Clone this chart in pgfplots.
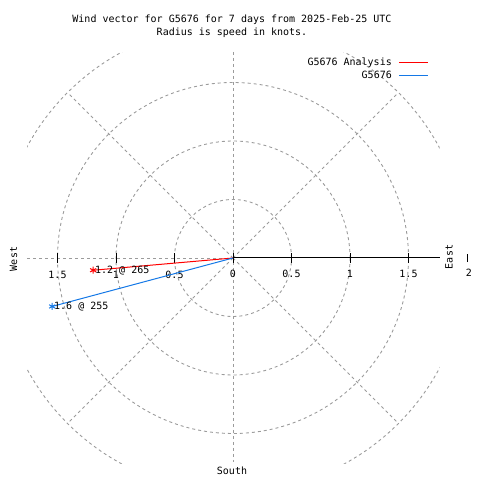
\documentclass[border=0pt]{standalone}
\usepackage{pgfplots}
\pgfplotsset{compat=1.18}
\usepackage{fontspec}
\setmainfont{DejaVu Sans Mono}
\setmonofont{DejaVu Sans Mono}
\definecolor{gridgray}{RGB}{155,155,155}
\definecolor{vecblue}{RGB}{20,120,230}
\newcommand{\pxc}[2]{(axis cs:{(#1-233)/117},{(258-#2)/117})}
\tikzset{gridline/.style={gridgray, line width=0.9bp, dash pattern=on 3bp off 3bp}}
\begin{document}
\begin{tikzpicture}[font=\fontsize{10bp}{12bp}\selectfont]
\begin{axis}[
  x=117bp, y=117bp,
  xmin=-1.991453, xmax=2.111111, ymin=-1.897436, ymax=2.205128,
  hide axis, clip=false,
  legend style={draw=none, fill=none, at={(axis cs:1.671,1.727)}, anchor=north east,
    font=\fontsize{10bp}{12bp}\selectfont, inner sep=0pt, row sep=1.5bp, column sep=5bp,
    nodes={inner sep=1.5bp}},
  legend plot pos=right,
  legend cell align=right,
  legend image code/.code={\draw[#1] (0bp,0bp) -- (29bp,0bp);},
]
% grid
\draw[gridline] (axis cs:0,0) circle[radius=0.5];
\draw[gridline] (axis cs:0,0) circle[radius=1];
\draw[gridline] (axis cs:0,0) circle[radius=1.5];
\begin{scope}
\clip (axis cs:-1.76,-1.755) rectangle (axis cs:1.765,1.757);
\draw[gridline] (axis cs:0,0) circle[radius=2];
\end{scope}
\draw[gridline] (axis cs:0,0) -- (axis cs:1.4142,1.4142);
\draw[gridline] (axis cs:0,0) -- (axis cs:-1.4142,1.4142);
\draw[gridline] (axis cs:0,0) -- (axis cs:-1.4142,-1.4142);
\draw[gridline] (axis cs:0,0) -- (axis cs:1.4142,-1.4142);
\draw[gridline] (axis cs:0,1.761) -- (axis cs:0,-1.744);
\draw[gridline] (axis cs:-1.76,0) -- (axis cs:0,0);
\draw[black, line width=1bp] (axis cs:0,0) -- (axis cs:1.765,0);
% ticks
\draw[black, line width=1bp] (axis cs:-1.5,-0.043) -- (axis cs:-1.5,0.043);
\draw[black, line width=1bp] (axis cs:-1,-0.043) -- (axis cs:-1,0.043);
\draw[black, line width=1bp] (axis cs:-0.5,-0.043) -- (axis cs:-0.5,0.043);
\draw[black, line width=1bp] (axis cs:0,-0.043) -- (axis cs:0,0.043);
\draw[black, line width=1bp] (axis cs:0.5,-0.043) -- (axis cs:0.5,0.043);
\draw[black, line width=1bp] (axis cs:1,-0.043) -- (axis cs:1,0.043);
\draw[black, line width=1bp] (axis cs:1.5,-0.043) -- (axis cs:1.5,0.043);
\draw[black, line width=1bp] (axis cs:2.005,-0.036) -- (axis cs:2.005,0.036);
% tick labels
\node[inner sep=0pt] at \pxc{57.5}{274.5} {1.5};
\node[inner sep=0pt] at \pxc{116}{274.5} {1};
\node[inner sep=0pt] at \pxc{174.5}{274.5} {0.5};
\node[inner sep=0pt] at \pxc{233}{274} {0};
\node[inner sep=0pt] at \pxc{291.5}{274} {0.5};
\node[inner sep=0pt] at \pxc{350}{274} {1};
\node[inner sep=0pt] at \pxc{408.5}{274} {1.5};
\node[inner sep=0pt] at \pxc{469}{273} {2};
% direction labels
\node[inner sep=0pt, rotate=90] at \pxc{13.5}{259} {West};
\node[inner sep=0pt, rotate=90] at \pxc{449}{257} {East};
\node[inner sep=0pt] at \pxc{232}{471} {South};
% titles
\node[inner sep=0pt] at \pxc{232}{20} {Wind vector for G5676 for 7 days from 2025-Feb-25 UTC};
\node[inner sep=0pt] at \pxc{232}{33} {Radius is speed in knots.};
% data
\addplot[red, line width=1bp, mark=asterisk, mark indices={2}, mark size=3.5bp, mark options={solid}]
  coordinates {(0,0) (-1.1954,-0.1046)}
  node[pos=1, anchor=west, text=black, inner sep=0pt, xshift=1.5bp] {1.2 @ 265};
\addlegendentry{G5676 Analysis}
\addplot[vecblue, line width=1bp, mark=asterisk, mark indices={2}, mark size=3.5bp, mark options={solid}]
  coordinates {(0,0) (-1.5455,-0.4141)}
  node[pos=1, anchor=west, text=black, inner sep=0pt, xshift=1.5bp] {1.6 @ 255};
\addlegendentry{G5676}
\path (rel axis cs:0,0) rectangle (rel axis cs:1,1);
\end{axis}
\end{tikzpicture}
\end{document}
